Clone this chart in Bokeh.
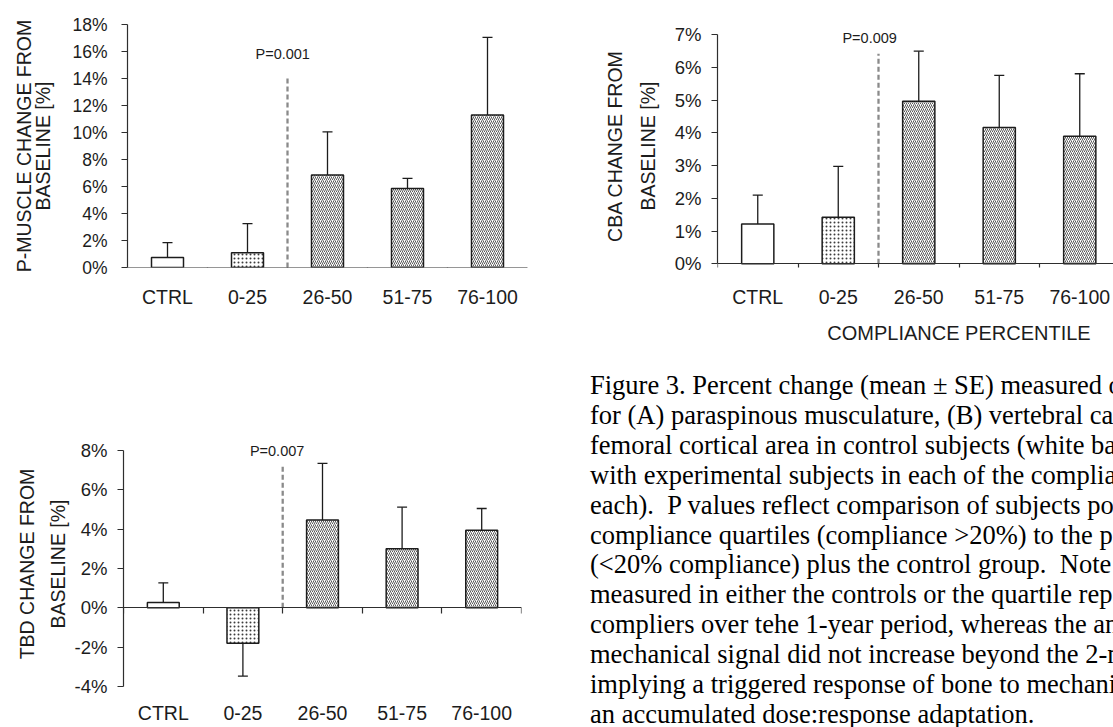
import html
from bokeh.plotting import figure
from bokeh.models import FixedTicker, LinearAxis, Range1d, Div, ColumnDataSource
from bokeh.layouts import column, row
from bokeh.embed import file_html
from bokeh.resources import INLINE
from bokeh.core.properties import value

# ---------------- data ----------------
categories = ["CTRL", "0-25", "26-50", "51-75", "76-100"]

pmuscle_mean = [0.75, 1.10, 6.85, 5.85, 11.30]
pmuscle_se = [1.10, 2.15, 3.20, 0.75, 5.75]

cba_mean = [1.22, 1.42, 4.97, 4.17, 3.90]
cba_se = [0.88, 1.56, 1.53, 1.59, 1.91]

tbd_mean = [0.27, -1.80, 4.46, 3.00, 3.95]
tbd_se = [1.00, 1.67, 2.89, 2.12, 1.10]

pmuscle_ticks = [0, 2, 4, 6, 8, 10, 12, 14, 16, 18]
cba_ticks = [0, 1, 2, 3, 4, 5, 6, 7]
tbd_ticks = [-4, -2, 0, 2, 4, 6, 8]

p_values = ["P=0.001", "P=0.009", "P=0.007"]
y_titles = ["P-MUSCLE CHANGE FROM\nBASELINE [%]",
            "CBA CHANGE FROM\nBASELINE [%]",
            "TBD CHANGE FROM\nBASELINE [%]"]
x_title = "COMPLIANCE PERCENTILE"

caption_lines = [
    "Figure 3. Percent change (mean \u00b1 SE) measured o",
    "for (A) paraspinous musculature, (B) vertebral ca",
    "femoral cortical area in control subjects (white ba",
    "with experimental subjects in each of the complia",
    "each).  P values reflect comparison of subjects po",
    "compliance quartiles (compliance >20%) to the p",
    "(<20% compliance) plus the control group.  Note",
    "measured in either the controls or the quartile rep",
    "compliers over tehe 1-year period, whereas the an",
    "mechanical signal did not increase beyond the 2-n",
    "implying a triggered response of bone to mechani",
    "an accumulated dose:response adaptation.",
]

# ---------------- styles ----------------
FONT = "Liberation Sans"
INK = "#1c1c1c"
AXIS = "#2e2e2e"
bar_patterns = ["blank", "dot", "right_diagonal_line", "right_diagonal_line", "right_diagonal_line"]
SPLIT = 2          # dashed divider after the 2nd category
STEP = 2           # x units per category
CAP = 0.125        # half width of error-bar caps (x units)
BAR_W = 0.8


def label_axis(p, ticks, labels, font_size, standoff):
    """Bottom axis used only to place text labels under the frame."""
    ax = LinearAxis(ticker=FixedTicker(ticks=ticks, minor_ticks=[]),
                    major_label_overrides=labels)
    ax.axis_line_color = None
    ax.major_tick_line_color = None
    ax.minor_tick_line_color = None
    ax.major_tick_out = 0
    ax.major_tick_in = 0
    ax.minor_tick_out = 0
    ax.minor_tick_in = 0
    ax.major_label_text_font = FONT
    ax.major_label_text_font_size = font_size
    ax.major_label_text_color = INK
    ax.major_label_standoff = standoff
    p.add_layout(ax, "below")
    return ax


def build_panel(means, ses, yticks, ytitle, ptext, cfg):
    n = len(categories)
    xs = [STEP * (i + 1) for i in range(n)]
    bounds = [STEP * i + STEP // 2 for i in range(n + 1)]
    ends = [m + s if m >= 0 else m - s for m, s in zip(means, ses)]
    src = ColumnDataSource(dict(x=xs, top=means, end=ends, pat=bar_patterns,
                                c0=[v - CAP for v in xs], c1=[v + CAP for v in xs]))
    left, right, top, bottom = cfg["mb"]
    p = figure(width=cfg["width"], height=cfg["height"],
               x_range=Range1d(bounds[0], cfg["x_end"]),
               y_range=Range1d(cfg["y_start"], cfg["y_end"]),
               x_axis_type=None, y_axis_type=None,
               output_backend="svg", toolbar_location=None,
               min_border_left=left, min_border_right=right,
               min_border_top=top, min_border_bottom=bottom,
               outline_line_color=None, background_fill_color="white",
               border_fill_color="white")

    # y axis
    yax = LinearAxis(ticker=FixedTicker(ticks=yticks, minor_ticks=[]),
                     bounds=(yticks[0], yticks[-1]),
                     major_label_overrides={t: f"{t}%" for t in yticks})
    yax.axis_line_color = AXIS
    yax.axis_line_width = 1.2
    yax.major_tick_line_color = AXIS
    yax.major_tick_line_width = 1.2
    yax.major_tick_out = 6
    yax.major_tick_in = 0
    yax.minor_tick_line_color = None
    yax.major_label_text_font = FONT
    yax.major_label_text_font_size = cfg["tick_fs"]
    yax.major_label_text_color = INK
    yax.major_label_standoff = cfg["ytick_standoff"]
    yax.axis_label = ytitle
    yax.axis_label_text_font = FONT
    yax.axis_label_text_font_size = "19.5px"
    yax.axis_label_text_font_style = "normal"
    yax.axis_label_text_color = INK
    yax.axis_label_standoff = cfg["ytitle_standoff"]
    yax.axis_label_text_line_height = cfg["ytitle_lh"]
    p.add_layout(yax, "left")

    # x axis line at zero with ticks at the category boundaries
    zax = LinearAxis(fixed_location=0,
                     ticker=FixedTicker(ticks=[], minor_ticks=bounds))
    zax.major_label_text_font_size = "0px"
    zax.major_tick_line_color = None
    zax.axis_line_color = AXIS
    zax.axis_line_width = 1.2
    zax.minor_tick_line_color = AXIS
    zax.minor_tick_line_width = 1.2
    zax.minor_tick_out = 6
    zax.minor_tick_in = 0
    p.add_layout(zax, "below")

    # category labels under the frame
    label_axis(p, xs, {x: c for x, c in zip(xs, categories)},
               "19.5px", cfg["cat_standoff"])

    # bars
    p.vbar(x="x", top="top", bottom=0, width=BAR_W, source=src,
           fill_color="white", line_color=INK, line_width=1.5,
           hatch_pattern="pat", hatch_color="#3c3c3c",
           hatch_scale=4.0, hatch_weight=0.85)
    # error bars
    p.segment(x0="x", y0="top", x1="x", y1="end", source=src,
              line_color=INK, line_width=1.3)
    p.segment(x0="c0", y0="end", x1="c1", y1="end", source=src,
              line_color=INK, line_width=1.3)

    # dashed divider + p value
    xd = bounds[SPLIT]
    p.segment(x0=[xd], y0=[0], x1=[xd], y1=[cfg["dash_top"]],
              line_color="#8a8a8a", line_width=2.3, line_dash="5 3")
    p.text(x=[cfg["p_x"]], y=[cfg["p_y"]], text=[ptext],
           text_align="center", text_baseline="middle",
           text_font=value(FONT), text_font_size="14.5px", text_color=INK)
    return p


TOP_H = 368
cfgA = dict(width=560, height=TOP_H, mb=(127, 33, 24, 101), x_end=11,
            y_start=0, y_end=18, tick_fs="17.5px",
            ytick_standoff=14, ytitle_standoff=15, ytitle_lh=0.88,
            cat_standoff=18, dash_top=14.2, p_x=4.88, p_y=15.85)
cfgB = dict(width=553, height=TOP_H, mb=(157, 0, 24, 101), x_end=1 + 2 * 396 / 80.5,
            y_start=-0.113, y_end=7.315, tick_fs="18.5px",
            ytick_standoff=10, ytitle_standoff=13, ytitle_lh=1.5,
            cat_standoff=18, dash_top=6.42, p_x=4.78, p_y=6.9)
cfgC = dict(width=560, height=727 - TOP_H, mb=(123, 39, 73, 41), x_end=11,
            y_start=-4, y_end=8.458, tick_fs="18.5px",
            ytick_standoff=10, ytitle_standoff=3, ytitle_lh=1.4,
            cat_standoff=15, dash_top=7.23, p_x=4.86, p_y=8.0)

pA = build_panel(pmuscle_mean, pmuscle_se, pmuscle_ticks, y_titles[0], p_values[0], cfgA)
pB = build_panel(cba_mean, cba_se, cba_ticks, y_titles[1], p_values[1], cfgB)
pC = build_panel(tbd_mean, tbd_se, tbd_ticks, y_titles[2], p_values[2], cfgC)

# x-axis title of panel B (second label row under the frame)
title_x = STEP * 3 + STEP // 2
label_axis(pB, [title_x], {title_x: x_title}, "20px", 11)

CAP_W = 1113 - 560
CAP_H = 727 - TOP_H
caption_html = (
    f'<div style="width:{CAP_W}px;height:{CAP_H}px;overflow:hidden;box-sizing:border-box;'
    'padding:3px 0 0 30px;white-space:pre;font-family:\'Liberation Serif\';'
    'font-size:26.5px;line-height:29.9px;color:#000;">'
    + "\n".join(html.escape(l) for l in caption_lines)
    + "</div>"
)
caption = Div(text=caption_html, width=CAP_W, height=CAP_H, margin=(0, 0, 0, 0))

layout = column(row(pA, pB, spacing=0), row(pC, caption, spacing=0), spacing=0)

open("out.html", "w").write(file_html(layout, INLINE))
